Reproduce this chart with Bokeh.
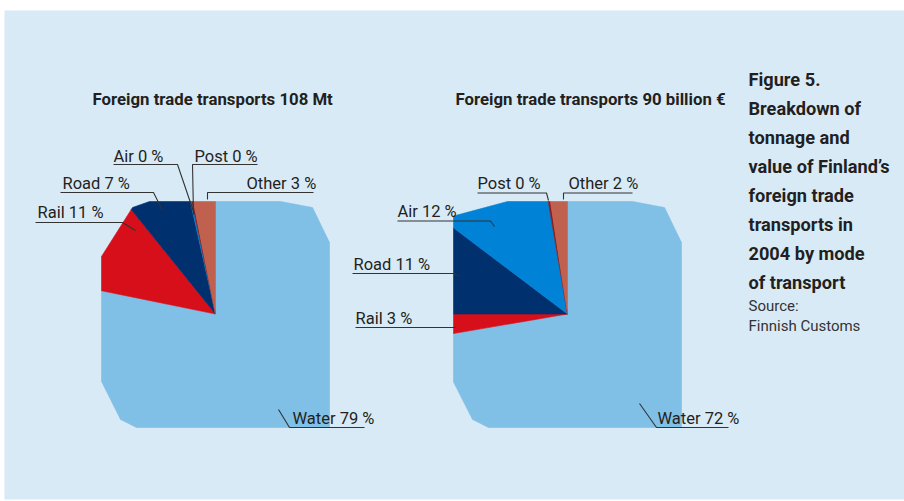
import numpy as np
from bokeh.plotting import figure
from bokeh.models import Range1d, ColumnDataSource
from bokeh.embed import file_html
from bokeh.resources import INLINE
from bokeh.core.properties import value

# ---------------- data ----------------
modes = ["Water", "Rail", "Road", "Air", "Post", "Other"]
tonnage_share = [78.2, 11.0, 7.3, 0.2, 0.2, 3.1]      # % of 108 Mt (drawn)
tonnage_label = [79, 11, 7, 0, 0, 3]                  # % as printed
value_share = [72.3, 2.7, 10.3, 12.0, 0.3, 2.4]       # % of 90 billion EUR (drawn)
value_label = [72, 3, 11, 12, 0, 2]                   # % as printed
titles = ["Foreign trade transports 108 Mt",
          "Foreign trade transports 90 billion €"]
caption_bold = ["Figure 5.", "Breakdown of", "tonnage and", "value of Finland’s",
                "foreign trade", "transports in", "2004 by mode", "of transport"]
caption_src = ["Source:", "Finnish Customs"]

# ---------------- style ----------------
colors = {"Water": "#80bfe6", "Rail": "#d70f1b", "Road": "#00306e",
          "Air": "#0082d6", "Post": "#8b1c1c", "Other": "#c0614f"}
BG = "#d9eaf7"
INK = "#231f20"
LINE = "#333333"
FONT = "Roboto"
DY = -5  # baseline correction for rendered text

# frame outline of each "pie" relative to its centre (pixels, y down), clockwise from top
OUTLINE_1 = [(65, -112.5), (97, -106.5), (114, -71.5), (114, 113.5), (-79, 113.5),
             (-95, 105.5), (-114, 67.5), (-114, -57.5), (-83, -106.5), (-66, -112.5)]
OUTLINE_2 = [(65, -112.5), (97, -106.5), (114, -71.5), (114, 113.5), (-79, 113.5),
             (-95, 105.5), (-114, 68), (-114, -98), (-60, -112.5)]
centres = [(215, 313.5), (567, 313.5)]

# label layout: (text x, text baseline y, leader polyline) in page pixels, order = modes
layout1 = [
    (292, 423, [(278, 409), (289, 427), (364, 427)]),
    (37, 217, [(35, 222), (122, 222), (135, 230)]),
    (62, 188, [(60, 192), (153, 192), (162, 210)]),
    (113, 161, [(113, 164), (177, 164), (194, 214)]),
    (194, 161, [(257, 164), (192, 164), (193, 214)]),
    (246, 188, [(313, 192), (207, 192), (207, 199)]),
]
layout2 = [
    (657, 423, [(639, 403), (656, 427), (728, 427)]),
    (355, 323, [(355, 327), (455, 327)]),
    (353, 269, [(352, 273), (453, 273), (459, 276)]),
    (397, 216, [(397, 220.5), (490, 220.5), (494, 226)]),
    (477, 188, [(477, 192.5), (546, 192.5), (548, 200)]),
    (568, 188, [(632, 192.5), (563, 192.5), (563, 199)]),
]
title_pos = [(92, 103), (455, 103)]


def cross(a, b):
    return a[0] * b[1] - a[1] * b[0]


def vert_angle(p):
    return np.degrees(np.arctan2(p[0], -p[1])) % 360


def ray(outline, theta):
    t_rad = np.radians(theta)
    d = (np.sin(t_rad), -np.cos(t_rad))
    best = None
    n = len(outline)
    for i in range(n):
        p = outline[i]
        q = outline[(i + 1) % n]
        e = (q[0] - p[0], q[1] - p[1])
        den = cross(d, e)
        if abs(den) < 1e-12:
            continue
        t = cross(p, e) / den
        s = cross(p, d) / den
        if t > 0 and -1e-9 <= s <= 1 + 1e-9:
            if best is None or t < best:
                best = t
    return (best * d[0], best * d[1])


def wedge(outline, theta_a, theta_b):
    pts = [(0.0, 0.0), ray(outline, theta_a)]
    inner = sorted([v for v in outline if theta_a < vert_angle(v) < theta_b], key=vert_angle)
    pts += inner
    pts.append(ray(outline, theta_b))
    return pts


p = figure(width=904, height=501, x_range=Range1d(0, 904), y_range=Range1d(501, 0),
           output_backend="svg", toolbar_location=None, min_border=0)
p.axis.visible = False
p.grid.visible = False
p.outline_line_color = None
p.background_fill_color = "white"
p.border_fill_color = "white"

p.quad(left=4, right=904, top=10, bottom=499, fill_color=BG, line_color=None)

for (cx, cy), outline, shares, labels, lay, title, tpos in zip(
        centres, [OUTLINE_1, OUTLINE_2], [tonnage_share, value_share],
        [tonnage_label, value_label], [layout1, layout2], titles, title_pos):
    total = float(sum(shares))
    cum = np.concatenate([[0.0], np.cumsum(shares)]) / total * 360.0
    xs, ys, fc = [], [], []
    for i, m in enumerate(modes):
        pts = wedge(outline, cum[i], cum[i + 1])
        xs.append([cx + q[0] for q in pts])
        ys.append([cy + q[1] for q in pts])
        fc.append(colors[m])
    src = ColumnDataSource(dict(xs=xs, ys=ys, fc=fc))
    p.patches("xs", "ys", source=src, fill_color="fc", line_color="fc", line_width=0.6)

    # leaders
    lx = [[q[0] for q in l[2]] for l in lay]
    ly = [[q[1] for q in l[2]] for l in lay]
    p.multi_line(lx, ly, line_color=LINE, line_width=1.1)

    txt = [f"{m} {v} %" for m, v in zip(modes, labels)]
    p.text(x=[l[0] for l in lay], y=[l[1] + DY for l in lay], text=txt,
           text_font=value(FONT), text_font_size="16.5px", text_color=INK,
           text_align="left", text_baseline="alphabetic")

    p.text(x=[tpos[0]], y=[tpos[1] + DY], text=[title], text_font=value(FONT),
           text_font_size="16.8px", text_font_style="bold", text_color=INK,
           text_align="left", text_baseline="alphabetic")

# caption at right
cap_x = 748
p.text(x=[cap_x] * len(caption_bold), y=[84 + DY + 29 * i for i in range(len(caption_bold))],
       text=caption_bold, text_font=value(FONT), text_font_size="18.2px",
       text_font_style="bold", text_color=INK, text_align="left", text_baseline="alphabetic")
p.text(x=[cap_x] * len(caption_src), y=[310 + DY + 20.5 * i for i in range(len(caption_src))],
       text=caption_src, text_font=value(FONT), text_font_size="15px",
       text_color="#333333", text_align="left", text_baseline="alphabetic")

open("out.html", "w").write(file_html(p, INLINE))
